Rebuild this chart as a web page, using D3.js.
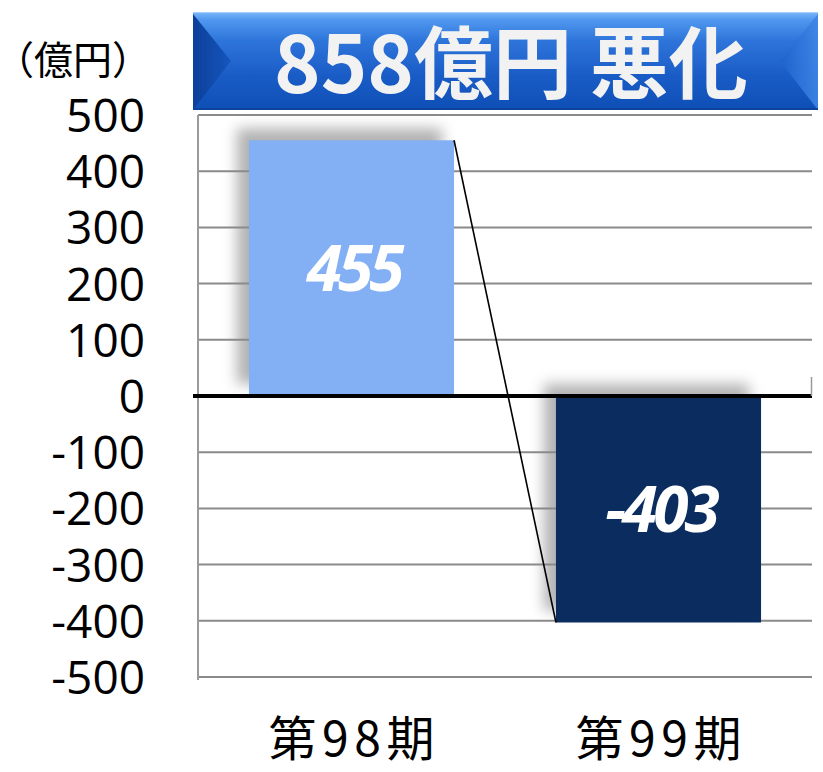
<!DOCTYPE html>
<html>
<head>
<meta charset="utf-8">
<script src="https://cdn.jsdelivr.net/npm/d3@7"></script>
<style>
  html, body { margin: 0; padding: 0; background: #fff; }
  svg { display: block; }
</style>
</head>
<body>
<svg id="chart" width="823" height="772"></svg>
<script>
// ---- data ----
const categories = ["第98期", "第99期"];
const values = [455, -403];
const valueLabels = ["455", "-403"];
const barColors = ["#83B0F4", "#0A2C5F"];
const yTicks = [500, 400, 300, 200, 100, 0, -100, -200, -300, -400, -500];
const unitLabel = "（億円）";
const titleText = "858億円 悪化";

// ---- layout ----
const svg = d3.select("#chart");
const plotLeft = 198, plotRight = 812, plotTop = 115, plotBottom = 677;

const x = d3.scaleBand().domain(categories).range([plotLeft, plotRight])
  .paddingInner(0.332).paddingOuter(0.166);
const y = d3.scaleLinear().domain([-500, 500]).range([plotBottom, plotTop]);

const defs = svg.append("defs");
const blur = defs.append("filter").attr("id", "shadowBlur")
  .attr("x", "-30%").attr("y", "-30%").attr("width", "160%").attr("height", "160%");
blur.append("feGaussianBlur").attr("stdDeviation", 7);

// bar shadows
svg.append("g").selectAll("rect").data(categories).join("rect")
  .attr("x", (d) => x(d) - 12)
  .attr("y", (d, i) => Math.min(y(values[i]), y(0)) - 12)
  .attr("width", x.bandwidth())
  .attr("height", (d, i) => Math.abs(y(values[i]) - y(0)))
  .attr("fill", "rgba(0,0,0,0.30)")
  .attr("filter", "url(#shadowBlur)");

// gridlines
svg.append("g").selectAll("line").data(yTicks.filter(t => t !== 0)).join("line")
  .attr("x1", plotLeft).attr("x2", plotRight)
  .attr("y1", d => y(d)).attr("y2", d => y(d))
  .attr("stroke", "#8a8a8a").attr("stroke-width", 2);

// left axis line
svg.append("line").attr("x1", plotLeft).attr("x2", plotLeft)
  .attr("y1", y(500)).attr("y2", y(-500) + 3)
  .attr("stroke", "#9a9a9a").attr("stroke-width", 2);

// bars
svg.append("g").selectAll("rect").data(categories).join("rect")
  .attr("x", d => x(d))
  .attr("y", (d, i) => Math.min(y(values[i]), y(0)))
  .attr("width", x.bandwidth())
  .attr("height", (d, i) => Math.abs(y(values[i]) - y(0)))
  .attr("fill", (d, i) => barColors[i]);

// zero line
svg.append("line").attr("x1", plotLeft - 5).attr("x2", plotRight)
  .attr("y1", y(0)).attr("y2", y(0))
  .attr("stroke", "#000").attr("stroke-width", 4);
svg.append("line").attr("x1", plotRight - 0.5).attr("x2", plotRight - 0.5)
  .attr("y1", y(0) - 19).attr("y2", y(0))
  .attr("stroke", "#9a9a9a").attr("stroke-width", 1.5);

// connector line
svg.append("line")
  .attr("x1", x(categories[0]) + x.bandwidth()).attr("y1", y(values[0]))
  .attr("x2", x(categories[1])).attr("y2", y(values[1]))
  .attr("stroke", "#000").attr("stroke-width", 1.6);

// value labels
svg.append("g").selectAll("text").data(categories).join("text")
  .attr("x", d => x(d) + x.bandwidth() / 2 + 2)
  .attr("y", (d, i) => (y(values[i]) + y(0)) / 2)
  .attr("dy", "0.36em")
  .attr("text-anchor", "middle")
  .attr("font-family", "'Open Sans', 'Noto Sans', sans-serif")
  .attr("font-weight", "bold").attr("font-style", "italic")
  .attr("font-size", 64).attr("letter-spacing", -4)
  .attr("fill", "#fff")
  .text((d, i) => valueLabels[i]);

// y axis labels
const yAxis = d3.axisLeft(y).tickValues(yTicks).tickSize(0).tickPadding(53)
  .tickFormat(d => String(d));
const gy = svg.append("g").attr("transform", `translate(${plotLeft},0)`).call(yAxis);
gy.select(".domain").remove();
gy.selectAll("text")
  .attr("font-family", "'Open Sans', 'Noto Sans', sans-serif")
  .attr("font-size", 46).attr("fill", "#000").attr("dy", "0.36em");

// x axis labels
const xAxis = d3.axisBottom(x).tickSize(0).tickPadding(0);
const gx = svg.append("g").attr("transform", `translate(0,739)`).call(xAxis);
gx.select(".domain").remove();
gx.selectAll("text")
  .attr("font-family", "'Noto Sans CJK JP', sans-serif")
  .attr("font-size", 48).attr("fill", "#000").attr("dy", "0.36em")
  .attr("textLength", 166).attr("lengthAdjust", "spacing");

// unit label
svg.append("text").attr("x", 73).attr("y", 60).attr("dy", "0.36em")
  .attr("text-anchor", "middle")
  .attr("font-family", "'Noto Sans CJK JP', sans-serif")
  .style("font-feature-settings", "'halt' 1")
  .attr("font-size", 39).attr("fill", "#000")
  .text(unitLabel);

// ---- title banner ----
const bx0 = 193, bx1 = 818, by0 = 12, by1 = 110;
const bg = defs.append("linearGradient").attr("id", "bannerGrad")
  .attr("x1", 0).attr("y1", 0).attr("x2", 0).attr("y2", 1);
[["0%", "#7ab8fa"], ["8%", "#4f97ee"], ["30%", "#2d74da"], ["65%", "#1a5cc6"], ["100%", "#0e4fb6"]]
  .forEach(([o, c]) => bg.append("stop").attr("offset", o).attr("stop-color", c));
const lg = defs.append("linearGradient").attr("id", "leftBevel")
  .attr("x1", 0).attr("y1", 0).attr("x2", 1).attr("y2", 0);
lg.append("stop").attr("offset", "0%").attr("stop-color", "#0c3f9a");
lg.append("stop").attr("offset", "100%").attr("stop-color", "#1656bd");
const rg = defs.append("linearGradient").attr("id", "rightBevel")
  .attr("x1", 0).attr("y1", 0).attr("x2", 1).attr("y2", 0);
rg.append("stop").attr("offset", "0%").attr("stop-color", "#1d62cc");
rg.append("stop").attr("offset", "100%").attr("stop-color", "#3f86e6");

const banner = svg.append("g");
banner.append("rect").attr("x", bx0).attr("y", by0)
  .attr("width", bx1 - bx0).attr("height", by1 - by0)
  .attr("fill", "url(#bannerGrad)");
banner.append("path")
  .attr("d", `M${bx0},${by0 + 2} L${bx0 + 38},${(by0 + by1) / 2} L${bx0},${by1}Z`)
  .attr("fill", "url(#leftBevel)");
banner.append("path")
  .attr("d", `M${bx1},${by0 + 2} L${bx1 - 38},${(by0 + by1) / 2} L${bx1},${by1}Z`)
  .attr("fill", "url(#rightBevel)").attr("opacity", 0.9);
banner.append("line").attr("x1", bx0).attr("x2", bx1)
  .attr("y1", by1 - 1).attr("y2", by1 - 1)
  .attr("stroke", "#0a44a0").attr("stroke-width", 2);
banner.append("line").attr("x1", bx0).attr("x2", bx1)
  .attr("y1", by0 + 0.5).attr("y2", by0 + 0.5)
  .attr("stroke", "#a8d0ff").attr("stroke-width", 1);

banner.append("text")
  .attr("x", 511).attr("y", 65).attr("dy", "0.36em")
  .attr("text-anchor", "middle")
  .attr("font-family", "'Noto Sans CJK JP', sans-serif")
  .attr("font-weight", "bold")
  .attr("font-size", 79).attr("fill", "#f2f2f2")
  .text(titleText);
</script>
</body>
</html>
